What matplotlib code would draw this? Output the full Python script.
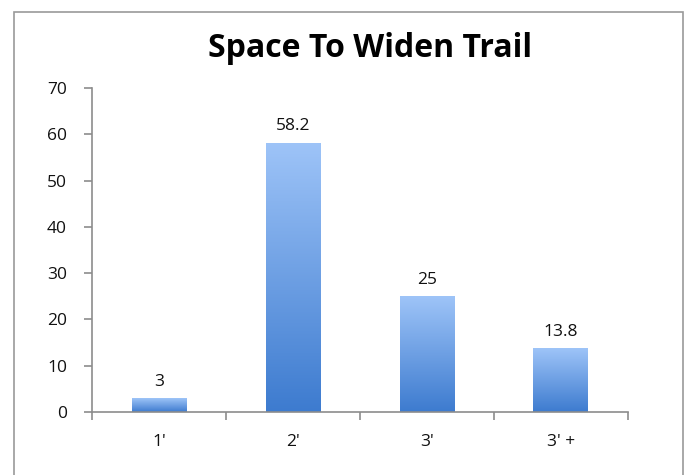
import matplotlib
matplotlib.use("Agg")
import matplotlib.pyplot as plt
import numpy as np
from matplotlib.colors import LinearSegmentedColormap
from matplotlib.patches import Rectangle

categories = ["1'", "2'", "3'", "3' +"]
values = [3, 58.2, 25, 13.8]
value_labels = ["3", "58.2", "25", "13.8"]
yticks = [0, 10, 20, 30, 40, 50, 60, 70]
title = "Space To Widen Trail"

plt.rcParams['font.family'] = ['Open Sans', 'DejaVu Sans']

fig = plt.figure(figsize=(6.87, 4.75), dpi=100)
ax = fig.add_axes([0.134, 0.1326, 0.780, 0.682])

# outer chart border
fig.patches.append(Rectangle((14/687, -0.05), (683-14)/687, 463/475 + 0.05,
                             transform=fig.transFigure, fill=False,
                             edgecolor='#9a9a9a', linewidth=1.2))

x = np.arange(len(categories))
width = 0.41
bars = ax.bar(x, values, width=width, color='none', edgecolor='none', zorder=2)

cmap = LinearSegmentedColormap.from_list('g', ['#3D7BCF', '#9EC4F8'])
grad = np.linspace(0, 1, 256).reshape(-1, 1)
for b in bars:
    x0, y0 = b.get_x(), b.get_y()
    w, h = b.get_width(), b.get_height()
    im = ax.imshow(grad, cmap=cmap, origin='lower', aspect='auto',
                   extent=[x0, x0 + w, y0, y0 + h], zorder=2)
    im.set_clip_path(b)

for xi, v, lab in zip(x, values, value_labels):
    ax.annotate(lab, (xi, v), xytext=(0, 6), textcoords='offset points',
                ha='center', va='bottom', fontsize=12.5, color='#111111')

ax.set_xlim(-0.5, len(categories) - 0.5)
ax.set_ylim(0, 70)
ax.set_yticks(yticks)
ax.set_xticks(x)
ax.set_xticklabels(categories)
ax.set_xticks(np.arange(-0.5, len(categories)), minor=True)

for s in ['top', 'right']:
    ax.spines[s].set_visible(False)
for s in ['left', 'bottom']:
    ax.spines[s].set_color('#8c8c8c')
    ax.spines[s].set_linewidth(1.2)

ax.tick_params(axis='y', direction='out', length=6, width=1.2, color='#8c8c8c',
               labelsize=12.5, labelcolor='#111111', pad=12)
ax.tick_params(axis='x', which='major', length=0, labelsize=12.5,
               labelcolor='#111111', pad=16)
ax.tick_params(axis='x', which='minor', direction='out', length=6, width=1.2,
               color='#8c8c8c')

fig.text(0.539, 0.897, title, ha='center', va='center', fontsize=23,
         fontweight='bold', color='#000000')

fig.savefig('out.png', dpi=100)
